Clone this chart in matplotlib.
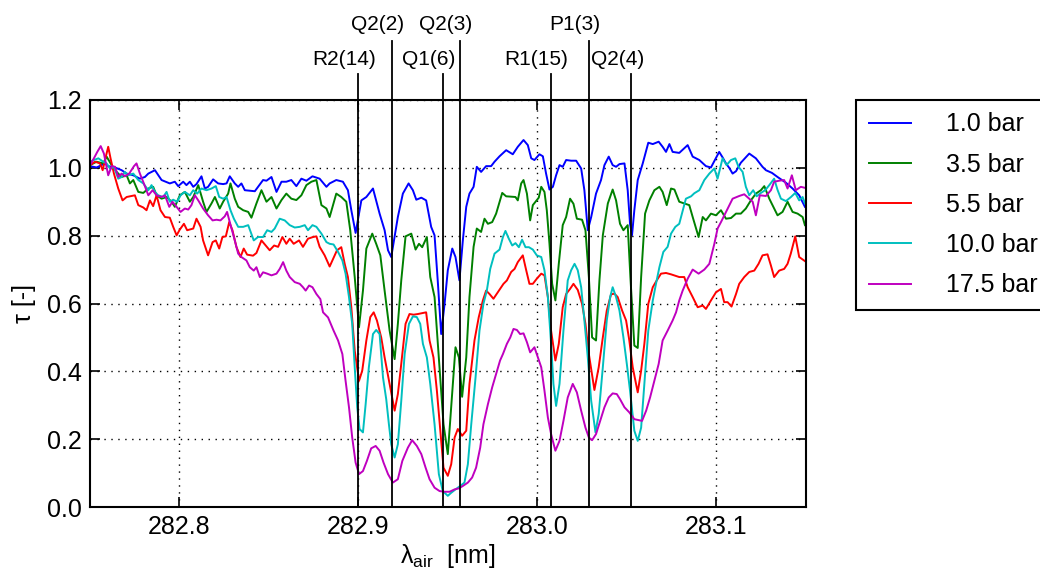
"""
Transmission spectra of the OH A-X band near 283 nm for several pressures,
with the assigned rotational lines marked above the axes.
"""

import numpy as np
import matplotlib
matplotlib.use("Agg")
import matplotlib.pyplot as plt

# ---- data (wavelength in nm, tau in -) ----
WL_1BAR = [
    282.7500, 282.7537, 282.7584, 282.7602, 282.7640, 282.7677, 282.7705, 282.7742, 282.7779, 282.7807,
    282.7826, 282.7863, 282.7900, 282.7946, 282.7974, 282.7993, 282.8021, 282.8039, 282.8058, 282.8077,
    282.8095, 282.8123, 282.8142, 282.8160, 282.8188, 282.8216, 282.8244, 282.8263, 282.8281, 282.8309,
    282.8328, 282.8346, 282.8365, 282.8421, 282.8439, 282.8467, 282.8486, 282.8514, 282.8542, 282.8570,
    282.8597, 282.8625, 282.8653, 282.8681, 282.8709, 282.8743, 282.8783, 282.8821,
    282.8839, 282.8876, 282.8913, 282.8941, 282.8960, 282.8984, 282.9016, 282.9044, 282.9081, 282.9118,
    282.9146, 282.9165, 282.9183, 282.9220, 282.9248, 282.9280, 282.9304, 282.9323, 282.9351, 282.9378,
    282.9406, 282.9425, 282.9444, 282.9462, 282.9481, 282.9499, 282.9524, 282.9542, 282.9564, 282.9583,
    282.9602, 282.9620, 282.9643, 282.9661, 282.9685, 282.9713, 282.9741, 282.9760, 282.9788,
    282.9825, 282.9862, 282.9890, 282.9922, 282.9946, 282.9965, 282.9983, 283.0011, 283.0030, 283.0048,
    283.0067, 283.0086, 283.0104, 283.0123, 283.0141, 283.0160, 283.0188, 283.0216, 283.0244, 283.0262,
    283.0281, 283.0300, 283.0327, 283.0355, 283.0374, 283.0398, 283.0420, 283.0439, 283.0458, 283.0486,
    283.0504, 283.0517, 283.0528, 283.0541, 283.0560, 283.0588, 283.0619, 283.0644, 283.0677, 283.0699,
    283.0718, 283.0737, 283.0755, 283.0792,
    283.0839, 283.0867, 283.0904, 283.0941, 283.0969, 283.1015, 283.1035, 283.1053, 283.1071, 283.1090,
    283.1109, 283.1136, 283.1183, 283.1220, 283.1257, 283.1276, 283.1310, 283.1341, 283.1388, 283.1425,
    283.1462, 283.1494,
]
TAU_1BAR = [
    1.005, 1.001, 1.013, 1.005, 1.001, 0.993, 0.983, 0.978, 0.968, 0.973,
    0.983, 0.993, 0.964, 0.954, 0.959, 0.946, 0.959, 0.949, 0.959, 0.944,
    0.952, 0.975, 0.939, 0.944, 0.966, 0.954, 0.952, 0.954, 0.975, 0.954,
    0.944, 0.954, 0.934, 0.931, 0.944, 0.964, 0.962, 0.973, 0.929, 0.959,
    0.959, 0.964, 0.946, 0.968, 0.962, 0.975, 0.968, 0.944,
    0.954, 0.964, 0.959, 0.934, 0.875, 0.808, 0.904, 0.914, 0.939, 0.865,
    0.816, 0.757, 0.737, 0.855, 0.924, 0.954, 0.934, 0.906, 0.912, 0.904,
    0.826, 0.801, 0.658, 0.510, 0.599, 0.698, 0.762, 0.737, 0.668, 0.786,
    0.885, 0.924, 0.944, 1.003, 0.988, 1.005, 1.005, 1.018, 1.034,
    1.052, 1.040, 1.062, 1.082, 1.067, 1.028, 1.023, 1.040, 1.034, 0.983,
    0.936, 0.944, 0.978, 1.008, 1.003, 1.023, 1.021, 1.021, 0.998, 0.934,
    0.816, 0.855, 0.924, 0.964, 1.008, 1.033, 1.008, 1.003, 1.011, 1.013,
    0.934, 0.835, 0.801, 0.875, 0.964, 1.013, 1.074, 1.070, 1.077, 1.062,
    1.047, 1.070, 1.047, 1.044,
    1.067, 1.033, 1.023, 1.005, 1.001, 1.047, 1.030, 1.013, 1.000, 0.983,
    0.990, 1.015, 1.042, 1.028, 1.003, 0.993, 0.985, 0.973, 0.956, 0.939,
    0.919, 0.885,
]

WL_3BAR5 = [
    282.7500, 282.7537, 282.7574, 282.7593, 282.7621, 282.7649, 282.7677, 282.7705, 282.7723, 282.7742,
    282.7770, 282.7798, 282.7826, 282.7853, 282.7872, 282.7900, 282.7928, 282.7956, 282.7974, 282.8002,
    282.8030, 282.8058, 282.8077, 282.8105, 282.8132, 282.8151, 282.8179, 282.8198, 282.8225, 282.8244,
    282.8272, 282.8285, 282.8309, 282.8328, 282.8356, 282.8384, 282.8402, 282.8430, 282.8458, 282.8486,
    282.8514, 282.8542, 282.8570, 282.8597, 282.8625, 282.8653, 282.8681, 282.8709, 282.8737, 282.8765,
    282.8793, 282.8821,
    282.8839, 282.8876, 282.8904, 282.8932, 282.8954, 282.8979, 282.9003, 282.9025, 282.9044, 282.9077,
    282.9099, 282.9122, 282.9146, 282.9174, 282.9202, 282.9220, 282.9239, 282.9263, 282.9295, 282.9319,
    282.9338, 282.9356, 282.9382, 282.9401, 282.9425, 282.9449, 282.9475, 282.9499, 282.9518, 282.9542,
    282.9561, 282.9579, 282.9602, 282.9620, 282.9643, 282.9661, 282.9685, 282.9704, 282.9723, 282.9747,
    282.9769, 282.9803, 282.9825,
    282.9877, 282.9890, 282.9909, 282.9922, 282.9941, 282.9959, 282.9974, 282.9989, 283.0007, 283.0021,
    283.0039, 283.0052, 283.0067, 283.0082, 283.0100, 283.0119, 283.0141, 283.0160, 283.0182, 283.0201,
    283.0220, 283.0249, 283.0268, 283.0287, 283.0305, 283.0327, 283.0346, 283.0365, 283.0393, 283.0420,
    283.0439, 283.0461, 283.0480, 283.0504, 283.0519, 283.0541, 283.0560, 283.0579, 283.0601, 283.0625,
    283.0653, 283.0681, 283.0699, 283.0722, 283.0746, 283.0765, 283.0792,
    283.0820, 283.0848, 283.0867, 283.0900, 283.0923, 283.0941, 283.0969, 283.0997, 283.1025, 283.1053,
    283.1081, 283.1109, 283.1136, 283.1164, 283.1192, 283.1220, 283.1248, 283.1267, 283.1295, 283.1322,
    283.1341, 283.1369, 283.1397, 283.1425, 283.1453, 283.1481, 283.1494,
]
TAU_3BAR5 = [
    1.008, 1.018, 1.013, 1.033, 1.008, 0.988, 0.973, 0.978, 0.954, 0.964,
    0.929, 0.926, 0.939, 0.944, 0.919, 0.909, 0.914, 0.900, 0.885, 0.919,
    0.929, 0.900, 0.914, 0.949, 0.900, 0.870, 0.895, 0.914, 0.880, 0.900,
    0.924, 0.954, 0.909, 0.885, 0.875, 0.870, 0.853, 0.895, 0.934, 0.900,
    0.914, 0.880, 0.905, 0.924, 0.909, 0.905, 0.919, 0.949, 0.959, 0.964,
    0.890, 0.880,
    0.855, 0.924, 0.914, 0.900, 0.816, 0.678, 0.530, 0.638, 0.762, 0.806,
    0.776, 0.742, 0.638, 0.520, 0.436, 0.540, 0.668, 0.798, 0.806, 0.759,
    0.776, 0.766, 0.796, 0.678, 0.619, 0.441, 0.244, 0.156, 0.294, 0.471,
    0.441, 0.325, 0.441, 0.619, 0.767, 0.821, 0.811, 0.850, 0.835, 0.840,
    0.865, 0.926, 0.916,
    0.914, 0.904, 0.954, 0.964, 0.924, 0.845, 0.890, 0.900, 0.912, 0.944,
    0.929, 0.875, 0.776, 0.658, 0.609, 0.717, 0.831, 0.855, 0.909, 0.894,
    0.850, 0.847, 0.816, 0.678, 0.500, 0.491, 0.668, 0.801, 0.895, 0.936,
    0.904, 0.835, 0.816, 0.831, 0.678, 0.476, 0.469, 0.678, 0.865, 0.904,
    0.934, 0.944, 0.929, 0.890, 0.939, 0.936, 0.900,
    0.895, 0.890, 0.855, 0.796, 0.855, 0.845, 0.865, 0.860, 0.875, 0.850,
    0.852, 0.865, 0.865, 0.880, 0.904, 0.924, 0.934, 0.946, 0.909, 0.880,
    0.860, 0.870, 0.900, 0.870, 0.865, 0.855, 0.831,
]

WL_5BAR5 = [
    282.7500, 282.7528, 282.7556, 282.7571, 282.7584, 282.7602, 282.7615, 282.7634, 282.7658, 282.7682,
    282.7705, 282.7733, 282.7751, 282.7770, 282.7798, 282.7816, 282.7835, 282.7853, 282.7872, 282.7894,
    282.7919, 282.7946, 282.7965, 282.7984, 282.8002, 282.8025, 282.8043, 282.8077, 282.8095, 282.8118,
    282.8132, 282.8160, 282.8185, 282.8203, 282.8222, 282.8240, 282.8259, 282.8278, 282.8296, 282.8318,
    282.8341, 282.8359, 282.8378, 282.8411, 282.8430, 282.8458, 282.8482, 282.8504, 282.8529, 282.8551,
    282.8575, 282.8597, 282.8616, 282.8638, 282.8668, 282.8690, 282.8718, 282.8746, 282.8765, 282.8783,
    282.8811, 282.8839,
    282.8880, 282.8904, 282.8923, 282.8941, 282.8960, 282.8979, 282.9003, 282.9021, 282.9044, 282.9066,
    282.9085, 282.9103, 282.9127, 282.9146, 282.9174, 282.9202, 282.9220, 282.9239, 282.9263, 282.9285,
    282.9308, 282.9332, 282.9378, 282.9397, 282.9419, 282.9438, 282.9462, 282.9475, 282.9499, 282.9518,
    282.9537, 282.9555, 282.9579, 282.9602, 282.9620, 282.9648, 282.9672, 282.9695, 282.9713, 282.9732,
    282.9754, 282.9778,
    282.9810, 282.9829, 282.9853, 282.9872, 282.9890, 282.9918, 282.9937, 282.9955, 282.9974, 282.9996,
    283.0021, 283.0039, 283.0058, 283.0076, 283.0100, 283.0119, 283.0141, 283.0160, 283.0182, 283.0201,
    283.0225, 283.0249, 283.0268, 283.0287, 283.0318, 283.0342, 283.0365, 283.0387, 283.0411, 283.0430,
    283.0448, 283.0473, 283.0495, 283.0513, 283.0532, 283.0560, 283.0579, 283.0597, 283.0619, 283.0644,
    283.0666, 283.0690, 283.0718, 283.0746, 283.0792,
    283.0820, 283.0839, 283.0867, 283.0895, 283.0923, 283.0941, 283.0969, 283.0997, 283.1025, 283.1043,
    283.1062, 283.1084, 283.1109, 283.1127, 283.1155, 283.1183, 283.1211, 283.1235, 283.1257, 283.1285,
    283.1304, 283.1322, 283.1350, 283.1378, 283.1397, 283.1415, 283.1440, 283.1462, 283.1494,
]
TAU_5BAR5 = [
    1.008, 1.018, 1.013, 0.993, 1.023, 1.062, 1.028, 0.983, 0.939, 0.904,
    0.914, 0.917, 0.919, 0.890, 0.883, 0.875, 0.904, 0.887, 0.919, 0.875,
    0.855, 0.853, 0.826, 0.801, 0.818, 0.835, 0.816, 0.821, 0.850, 0.826,
    0.786, 0.742, 0.781, 0.786, 0.762, 0.796, 0.798, 0.840, 0.816, 0.767,
    0.737, 0.762, 0.744, 0.741, 0.749, 0.786, 0.771, 0.757, 0.771, 0.767,
    0.796, 0.776, 0.791, 0.776, 0.786, 0.767, 0.791, 0.796, 0.798, 0.767,
    0.742, 0.709,
    0.757, 0.766, 0.717, 0.678, 0.589, 0.461, 0.372, 0.402, 0.491, 0.560,
    0.574, 0.550, 0.500, 0.441, 0.363, 0.284, 0.333, 0.422, 0.540, 0.569,
    0.567, 0.569, 0.574, 0.491, 0.441, 0.343, 0.195, 0.116, 0.092, 0.126,
    0.205, 0.230, 0.210, 0.225, 0.363, 0.491, 0.560, 0.609, 0.638, 0.628,
    0.614, 0.633,
    0.658, 0.668, 0.693, 0.702, 0.722, 0.742, 0.698, 0.658, 0.658, 0.673,
    0.688, 0.683, 0.619, 0.520, 0.432, 0.481, 0.589, 0.628, 0.643, 0.658,
    0.640, 0.599, 0.540, 0.451, 0.345, 0.412, 0.500, 0.579, 0.627, 0.629,
    0.619, 0.579, 0.550, 0.491, 0.412, 0.338, 0.402, 0.481, 0.599, 0.648,
    0.668, 0.688, 0.690, 0.686, 0.678,
    0.678, 0.648, 0.619, 0.589, 0.594, 0.584, 0.609, 0.633, 0.643, 0.604,
    0.604, 0.591, 0.628, 0.658, 0.678, 0.693, 0.697, 0.717, 0.742, 0.745,
    0.712, 0.678, 0.697, 0.702, 0.717, 0.747, 0.798, 0.737, 0.725,
]

WL_10BAR = [
    282.7500, 282.7522, 282.7547, 282.7574, 282.7593, 282.7612, 282.7634, 282.7658, 282.7677, 282.7695,
    282.7714, 282.7742, 282.7770, 282.7798, 282.7826, 282.7844, 282.7863, 282.7881, 282.7909, 282.7928,
    282.7946, 282.7965, 282.7987, 282.8006, 282.8030, 282.8058, 282.8077, 282.8099, 282.8123, 282.8151,
    282.8179, 282.8203, 282.8222, 282.8244, 282.8263, 282.8285, 282.8304, 282.8328, 282.8356, 282.8384,
    282.8415, 282.8439, 282.8467, 282.8490, 282.8514, 282.8532, 282.8560, 282.8588, 282.8616, 282.8644,
    282.8672, 282.8700, 282.8718, 282.8743, 282.8765, 282.8793, 282.8821,
    282.8839, 282.8861, 282.8886, 282.8910, 282.8928, 282.8947, 282.8965, 282.8979, 282.8993, 282.9006,
    282.9025, 282.9040, 282.9058, 282.9081, 282.9099, 282.9118, 282.9137, 282.9155, 282.9170, 282.9183,
    282.9202, 282.9220, 282.9239, 282.9258, 282.9282, 282.9304, 282.9326, 282.9345, 282.9360, 282.9382,
    282.9401, 282.9425, 282.9449, 282.9471, 282.9499, 282.9518, 282.9542, 282.9568, 282.9592, 282.9611,
    282.9630, 282.9654, 282.9676, 282.9698, 282.9717, 282.9736, 282.9760, 282.9788,
    282.9807, 282.9821, 282.9840, 282.9859, 282.9877, 282.9896, 282.9914, 282.9933, 282.9952, 282.9974,
    282.9996, 283.0021, 283.0039, 283.0058, 283.0076, 283.0089, 283.0104, 283.0123, 283.0145, 283.0169,
    283.0188, 283.0207, 283.0225, 283.0244, 283.0262, 283.0281, 283.0300, 283.0324, 283.0342, 283.0365,
    283.0387, 283.0406, 283.0420, 283.0439, 283.0458, 283.0480, 283.0499, 283.0517, 283.0541, 283.0560,
    283.0579, 283.0597, 283.0619, 283.0644, 283.0662, 283.0681, 283.0703, 283.0727, 283.0746, 283.0770,
    283.0792,
    283.0829, 283.0858, 283.0876, 283.0904, 283.0932, 283.0960, 283.0988, 283.1006, 283.1034, 283.1056,
    283.1081, 283.1105, 283.1123, 283.1146, 283.1164, 283.1183, 283.1205, 283.1224, 283.1248, 283.1272,
    283.1295, 283.1322, 283.1341, 283.1360, 283.1388, 283.1416, 283.1440, 283.1462, 283.1481, 283.1494,
]
TAU_10BAR = [
    1.018, 1.023, 1.028, 1.018, 1.013, 0.998, 1.003, 0.968, 0.973, 0.988,
    0.978, 0.983, 0.964, 0.954, 0.934, 0.949, 0.929, 0.919, 0.914, 0.929,
    0.900, 0.906, 0.900, 0.919, 0.929, 0.919, 0.934, 0.924, 0.939, 0.934,
    0.939, 0.946, 0.914, 0.909, 0.914, 0.875, 0.850, 0.826, 0.826, 0.831,
    0.786, 0.796, 0.796, 0.816, 0.811, 0.821, 0.850, 0.845, 0.831, 0.824,
    0.826, 0.831, 0.816, 0.831, 0.826, 0.806, 0.781,
    0.776, 0.774, 0.752, 0.727, 0.688, 0.619, 0.540, 0.412, 0.294, 0.230,
    0.220, 0.303, 0.412, 0.510, 0.522, 0.510, 0.382, 0.318, 0.244, 0.185,
    0.146, 0.185, 0.313, 0.451, 0.540, 0.562, 0.560, 0.540, 0.481, 0.441,
    0.363, 0.244, 0.097, 0.047, 0.033, 0.042, 0.052, 0.062, 0.072, 0.126,
    0.244, 0.382, 0.520, 0.599, 0.638, 0.702, 0.747, 0.759,
    0.796, 0.814, 0.791, 0.771, 0.778, 0.766, 0.788, 0.766, 0.766, 0.759,
    0.742, 0.737, 0.698, 0.619, 0.481, 0.363, 0.298, 0.363, 0.520, 0.668,
    0.698, 0.717, 0.698, 0.648, 0.550, 0.441, 0.313, 0.220, 0.274, 0.412,
    0.550, 0.619, 0.648, 0.619, 0.579, 0.500, 0.422, 0.343, 0.225, 0.195,
    0.234, 0.363, 0.520, 0.609, 0.658, 0.707, 0.752, 0.767, 0.806, 0.826,
    0.835,
    0.909, 0.916, 0.925, 0.934, 0.964, 0.983, 0.998, 0.968, 1.028, 1.008,
    1.023, 1.028, 1.003, 0.988, 0.944, 0.919, 0.934, 0.916, 0.926, 0.934,
    0.949, 0.968, 0.935, 0.909, 0.902, 0.914, 0.926, 0.904, 0.914, 0.895,
]

WL_17BAR5 = [
    282.7500, 282.7522, 282.7541, 282.7560, 282.7578, 282.7602, 282.7621, 282.7640, 282.7658, 282.7677,
    282.7695, 282.7719, 282.7746, 282.7760, 282.7779, 282.7801, 282.7826, 282.7850, 282.7872, 282.7900,
    282.7919, 282.7943, 282.7961, 282.7984, 282.8006, 282.8030, 282.8049, 282.8067, 282.8086, 282.8105,
    282.8132, 282.8160, 282.8185, 282.8207, 282.8229, 282.8253, 282.8266, 282.8281, 282.8304, 282.8328,
    282.8346, 282.8374, 282.8393, 282.8415, 282.8430, 282.8449, 282.8467, 282.8490, 282.8514, 282.8542,
    282.8560, 282.8579, 282.8597, 282.8616, 282.8644, 282.8672, 282.8690, 282.8705, 282.8724, 282.8743,
    282.8765, 282.8787, 282.8802, 282.8830,
    282.8861, 282.8886, 282.8910, 282.8928, 282.8947, 282.8965, 282.8984, 282.9003, 282.9025, 282.9047,
    282.9071, 282.9096, 282.9118, 282.9140, 282.9165, 282.9192, 282.9220, 282.9245, 282.9276, 282.9300,
    282.9326, 282.9351, 282.9375, 282.9397, 282.9425, 282.9453, 282.9481, 282.9509, 282.9537, 282.9561,
    282.9583, 282.9611, 282.9635, 282.9657, 282.9680, 282.9698, 282.9723, 282.9747, 282.9769, 282.9791,
    282.9807, 282.9829, 282.9848, 282.9866, 282.9885, 282.9903, 282.9922, 282.9941, 282.9959, 282.9983,
    283.0002, 283.0021, 283.0039, 283.0058, 283.0076, 283.0100, 283.0123, 283.0145, 283.0169, 283.0197,
    283.0220, 283.0244, 283.0268, 283.0287, 283.0305, 283.0327, 283.0350, 283.0374, 283.0398, 283.0420,
    283.0443, 283.0461, 283.0486, 283.0513, 283.0541, 283.0566, 283.0584, 283.0607, 283.0629, 283.0653,
    283.0677, 283.0699, 283.0727, 283.0755, 283.0774, 283.0792,
    283.0811, 283.0839, 283.0867, 283.0900, 283.0932, 283.0960, 283.0988, 283.1006, 283.1025, 283.1053,
    283.1090, 283.1127, 283.1155, 283.1183, 283.1202, 283.1220, 283.1242, 283.1276, 283.1304, 283.1322,
    283.1350, 283.1378, 283.1397, 283.1421, 283.1443, 283.1471, 283.1494,
]
TAU_17BAR5 = [
    1.008, 1.028, 1.047, 1.064, 1.042, 0.978, 1.005, 1.003, 0.973, 0.983,
    0.975, 0.983, 1.005, 1.013, 0.983, 0.954, 0.919, 0.934, 0.919, 0.914,
    0.919, 0.885, 0.900, 0.885, 0.870, 0.880, 0.877, 0.890, 0.919, 0.904,
    0.880, 0.860, 0.845, 0.847, 0.845, 0.857, 0.870, 0.840, 0.796, 0.747,
    0.737, 0.727, 0.707, 0.697, 0.707, 0.678, 0.692, 0.688, 0.683, 0.688,
    0.702, 0.722, 0.697, 0.678, 0.663, 0.658, 0.648, 0.638, 0.653, 0.648,
    0.628, 0.613, 0.574, 0.559,
    0.520, 0.491, 0.451, 0.372, 0.294, 0.205, 0.131, 0.097, 0.106, 0.136,
    0.173, 0.180, 0.166, 0.131, 0.097, 0.072, 0.082, 0.136, 0.175, 0.197,
    0.180, 0.156, 0.116, 0.082, 0.057, 0.047, 0.045, 0.045, 0.052, 0.055,
    0.062, 0.072, 0.087, 0.116, 0.175, 0.244, 0.303, 0.353, 0.392, 0.432,
    0.451, 0.481, 0.500, 0.525, 0.522, 0.510, 0.512, 0.486, 0.456, 0.471,
    0.441, 0.412, 0.343, 0.264, 0.215, 0.166, 0.195, 0.254, 0.323, 0.363,
    0.338, 0.284, 0.234, 0.205, 0.197, 0.215, 0.254, 0.294, 0.323, 0.335,
    0.333, 0.318, 0.294, 0.279, 0.259, 0.256, 0.254, 0.284, 0.323, 0.372,
    0.422, 0.491, 0.520, 0.550, 0.574, 0.609,
    0.638, 0.673, 0.700, 0.688, 0.700, 0.717, 0.776, 0.821, 0.840, 0.870,
    0.909, 0.917, 0.922, 0.909, 0.900, 0.860, 0.919, 0.917, 0.934, 0.959,
    0.962, 0.964, 0.939, 0.978, 0.934, 0.944, 0.941,
]

PRESSURES = ["1.0 bar", "3.5 bar", "5.5 bar", "10.0 bar", "17.5 bar"]
COLORS = ["b", "g", "r", "c", "m"]

# assigned transitions (nm)
LINE_NAMES = ["R2(14)", "Q2(2)", "Q1(6)", "Q2(3)", "R1(15)", "P1(3)", "Q2(4)"]
LINE_POS = [282.8996, 282.9185, 282.9470, 282.9565, 283.0073, 283.0285, 283.0525]

plt.rcParams["font.family"] = ["Liberation Sans", "DejaVu Sans"]
plt.rcParams["mathtext.fontset"] = "custom"
plt.rcParams["mathtext.rm"] = "Liberation Sans"
plt.rcParams["mathtext.it"] = "Liberation Sans:italic"

fig, ax = plt.subplots(figsize=(10.4, 5.72), dpi=100)
fig.subplots_adjust(left=0.0865, right=0.775, bottom=0.1136, top=0.8252)

spectra = [(WL_1BAR, TAU_1BAR), (WL_3BAR5, TAU_3BAR5), (WL_5BAR5, TAU_5BAR5),
           (WL_10BAR, TAU_10BAR), (WL_17BAR5, TAU_17BAR5)]
for (wl, tau), lab, col in zip(spectra, PRESSURES, COLORS):
    ax.plot(wl, tau, color=col, lw=1.4, label=lab)

# line markers: alternate short / tall so the labels don't collide
for i, (name, pos) in enumerate(zip(LINE_NAMES, LINE_POS)):
    tall = i % 2 == 1
    top = 1.375 if tall else 1.277
    ax.plot([pos, pos], [0, top], color="k", lw=1.3, clip_on=False, zorder=3)
    ax.annotate(name, xy=(pos, 1.422 if tall else 1.318), xytext=(-10, 0),
                textcoords="offset points", ha="center", va="center",
                fontsize=15, annotation_clip=False)

ax.set_xlim(282.75, 283.15)
ax.set_ylim(0, 1.2)
ax.set_xticks([282.8, 282.9, 283.0, 283.1])
ax.set_yticks([0.0, 0.2, 0.4, 0.6, 0.8, 1.0, 1.2])
ax.xaxis.set_major_formatter(plt.FormatStrFormatter("%.1f"))
ax.yaxis.set_major_formatter(plt.FormatStrFormatter("%.1f"))
ax.tick_params(direction="in", top=True, right=True, length=7, width=1.2,
               labelsize=18, pad=6)
ax.grid(True, color="k", linestyle=(0, (1, 4)), linewidth=1.0)
for sp in ax.spines.values():
    sp.set_linewidth(1.5)

ax.set_xlabel("λ$_{\\mathrm{air}}$  [nm]", fontsize=18, labelpad=2)
ax.set_ylabel("τ [-]", fontsize=18, labelpad=8)

leg = ax.legend(loc="upper left", bbox_to_anchor=(1.07, 1.0), borderaxespad=0,
                fontsize=18, fancybox=False, framealpha=1, edgecolor="k",
                handlelength=1.7, handletextpad=1.4, labelspacing=0.65, borderpad=0.5)
leg.get_frame().set_linewidth(1.5)

plt.savefig("out.png", dpi=100)
